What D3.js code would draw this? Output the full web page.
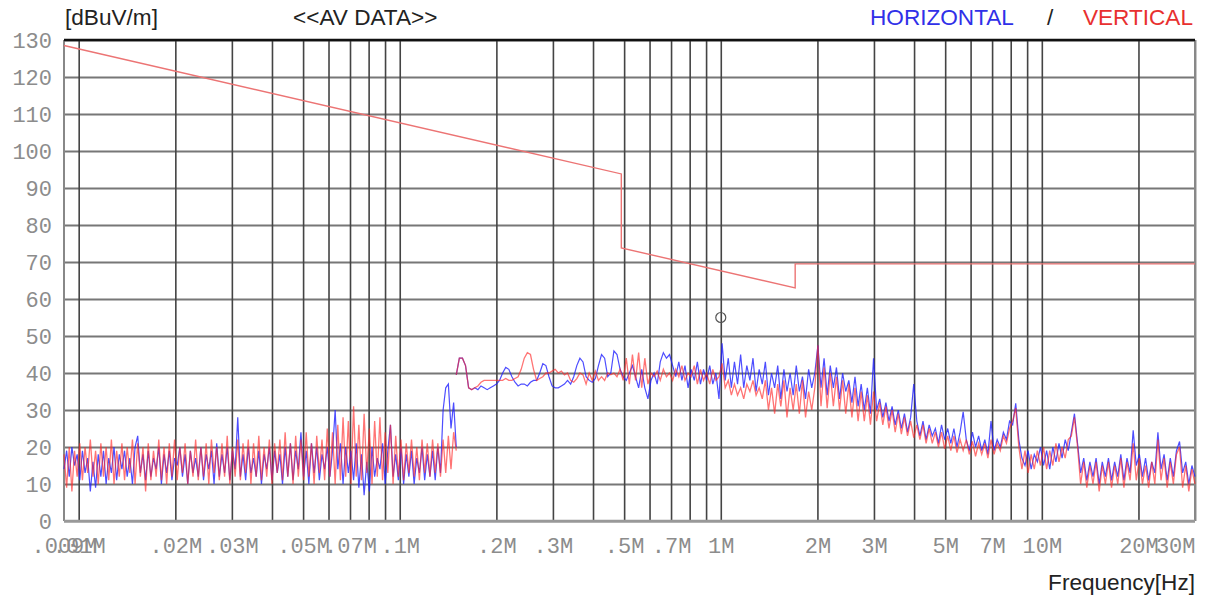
<!DOCTYPE html>
<html>
<head>
<meta charset="utf-8">
<script src="https://cdn.jsdelivr.net/npm/d3@7"></script>
<style>
  body { margin: 0; background: #fff; }
  svg { display: block; }
  .lbl { font-family: "Liberation Mono", "DejaVu Sans Mono", monospace; font-size: 22px; fill: #8c8c8c; }
  .head { font-family: "Liberation Sans", Arial, sans-serif; font-size: 22.6px; }
</style>
</head>
<body>
<div id="chart"></div>
<script>
// sweep bands [start, stop] in MHz
const lowBand = [0.009, 0.15];
const highBand = [0.15, 30];

// 9k - 150k band readings (dBuV/m)
const horizLow = [14,19,12,20,15,18,11,19,13,17, 8,16,9,18,12,19,10,17,13,20,
  11,18,14,19,12,17,10,20,23,13, 18,11,19,12,17,14,20,10,18,13,
  19,11,17,15,20,12,18,10,19,13, 17,12,20,11,18,14,19,10,21,12,
  18,13,20,11,19,14,28,12,18,11, 20,13,17,12,19,10,18,14,20,11,
  19,13,18,10,20,12,21,11,19,14, 24,12,19,10,21,13,20,11,18,14,
  20,12,19,30,14,21,10,20,13,19, 11,21,9,18,7,16,8,20,12,17,
  14,21,10,19,26,12,18,11,20,10, 18,12,19,10,17,13,20,11,18,12,
  19,11,20,13,30,36,37,25,32,20];
const vertLow = [18,9,20,8,19,12,21,11,20,13, 22,12,19,10,21,12,20,11,22,10,
  19,12,21,11,20,13,22,10,21,12, 20,8,21,11,19,12,22,11,20,10,
  21,12,22,11,20,13,21,10,19,12, 22,11,20,12,21,10,22,13,20,11,
  21,12,23,10,20,12,22,11,21,13, 22,10,21,12,23,11,20,12,22,10,
  21,13,22,11,24,12,21,10,23,12, 22,11,24,12,21,10,23,13,22,11,
  25,12,24,10,26,11,28,12,27,10, 31,12,26,11,29,13,25,10,27,12,
  28,11,24,13,26,10,23,12,22,11, 21,13,22,12,20,11,22,13,21,12,
  22,13,21,12,22,13,23,14,24,19];

// 150k - 30M band readings (dBuV/m)
const horizHigh = [39.5,44,44,42,36,35.5,36,35.5,36.5,36, 35.5,36,36.5,37,38,40,41.5,41,39,37.5,
  36.5,37,37,36.5,37.5,38,38,40,42.5,42, 39,36.5,36,36,36.5,37,38,37,39,42,
  44,43,39,38,37.5,38.5,42,45,44,39, 40,46,45,41,39,38,40,42,39,36,
  41,36,33,38,40,37,43,45.5,44,45, 42,39,43,38,42,36,41,38,43,37,
  41,38,42,37,40,33,48,38,44,36, 43,37,45,36,42,38,44,35,41,37,
  43,34,40,36,42,33,41,35,40,34, 42,35,39,33,41,36,40,47.5,36,44,
  34,42,36,41.5,33,40,35,38,32,39, 31,37,30,36,29,44,30,33,28,32,
  27,31,26,30,25,29,24,28,37,27, 23,27,22,26,23,25,21,26,22,25,
  21,25,20,24,29.5,22,19,24,20,23, 19,22,18,27,19,22,20,24,22,27,
  26,31.8,22,17,15,19,14,18,16,20, 15,19,14,20,16,21,17,22,19,24,
  29,21,13,17,11,16,12,17,10,16, 12,17,11,16,12,18,11,17,13,24.5,
  15,18,12,17,11,16,13,24,14,18, 11,17,12,19,21.5,13,16,10,15,12];
const vertHigh = [39.5,44,44,42,36,35.5,36,36.5,37.5,38, 38,38,38,38,38,38,38.5,38,38,38.5,
  39,41,44,45.5,45,41,38,38.5,39,40, 40,40.5,41,40,40.5,39.5,40,38,37.5,38.5,
  40,39.5,37,40,38,40.5,38,39,38,40, 39.5,40,39,41,38,44,37,45,38,45.5,
  36,44,37,40,39,40.5,38,41,39,40, 38,41,39,42,38,40,39,42,37,41,
  38,40,37,41,38,39,42.6,36,38,34, 37,34,36,33,37,35,38,34,36,33,
  38,30,36,29,37,31,38,28,36,30, 37,29,38,28,35,30,36,47.5,31,41.5,
  30.5,40,31,39,30,38,29,37,28,36, 27,35,27,34,26,35,27,32,26,31,
  25,30,24,29,23.5,28,23,27,22.5,26, 22,26,21,25,21,24,20,24,19.5,23,
  19,23,18.5,22,19,22,18,21.5,17.5,21, 18,21,17,22,18,21,19,23,21,25,
  27,30.5,20,14,19,13,18,14,19,15, 20,14,19,15,21,16,20,17,22,23,
  28,20,10,16,9,15,10,16,8,15, 10,16,9,15,10,17,9,16,11,21,
  11,17,10,15,9,16,10,22,11,17, 9,16,10,18,20,9,15,8,14,10];

// limit line break points
const limitFreq = [0.009, 0.49, 0.49, 1.705, 1.705, 30];
const limitLevel = [128.5, 93.8, 73.8, 63.0, 69.5, 69.5];

// marked peak
const markFreq = [1.0];
const markLevel = [55];

const yTicks = [0,10,20,30,40,50,60,70,80,90,100,110,120,130];
const xGrid = [0.01,0.02,0.03,0.04,0.05,0.06,0.07,0.08,0.09,
  0.1,0.2,0.3,0.4,0.5,0.6,0.7,0.8,0.9,
  1,2,3,4,5,6,7,8,9,10,20,30];
const xTickValues = [0.009,0.01,0.02,0.03,0.05,0.07,0.1,0.2,0.3,0.5,0.7,1,2,3,5,7,10,20,30];
const xTickLabels = [".009M",".01M",".02M",".03M",".05M",".07M",".1M",".2M",".3M",".5M",".7M",
  "1M","2M","3M","5M","7M","10M","20M","30M"];

const W = 1205, H = 600;
const pLeft = 64, pRight = 1195, pTop = 40, pBottom = 521;

const svg = d3.select("#chart").append("svg")
  .attr("width", W).attr("height", H);

const x = d3.scaleLog().domain([0.009, 30]).range([pLeft, pRight]);
const y = d3.scaleLinear().domain([0, 130]).range([pBottom, pTop]);

// horizontal grid
const gy = svg.append("g")
  .attr("transform", `translate(${pLeft},0)`)
  .call(d3.axisLeft(y).tickValues(yTicks).tickSize(-(pRight - pLeft)).tickPadding(12).tickFormat(d3.format("d")));
gy.select(".domain").remove();
gy.selectAll("line").attr("stroke", "#777").attr("stroke-width", 2);
gy.selectAll("text").attr("class", "lbl").attr("font-size", null).attr("font-family", null);

// vertical grid
const gx = svg.append("g")
  .attr("transform", `translate(0,${pBottom})`)
  .call(d3.axisBottom(x).tickValues(xGrid).tickSize(-(pBottom - pTop)).tickFormat(""));
gx.select(".domain").remove();
gx.selectAll("line").attr("stroke", "#444").attr("stroke-width", 1.6);

// x labels
const gl = svg.append("g")
  .attr("transform", `translate(0,${pBottom})`)
  .call(d3.axisBottom(x).tickValues(xTickValues).tickSize(0).tickPadding(16)
    .tickFormat((d, i) => xTickLabels[i]));
gl.select(".domain").remove();
gl.selectAll("text").attr("class", "lbl").attr("font-size", null).attr("font-family", null)
  .attr("text-anchor", d => d === 30 ? "end" : "middle");

// frame
svg.append("line").attr("x1", pLeft).attr("x2", pLeft).attr("y1", pTop).attr("y2", pBottom)
  .attr("stroke", "#888").attr("stroke-width", 2);
svg.append("line").attr("x1", pRight).attr("x2", pRight).attr("y1", pTop).attr("y2", pBottom)
  .attr("stroke", "#888").attr("stroke-width", 2);
svg.append("line").attr("x1", pLeft).attr("x2", pRight).attr("y1", pBottom).attr("y2", pBottom)
  .attr("stroke", "#999").attr("stroke-width", 2.5);
svg.append("line").attr("x1", pLeft).attr("x2", pRight).attr("y1", pTop).attr("y2", pTop)
  .attr("stroke", "#111").attr("stroke-width", 2.5);

// traces
function sweep(band, vals) {
  const n = vals.length;
  return vals.map((v, i) => [band[0] * Math.pow(band[1] / band[0], i / (n - 1)), v]);
}
const line = d3.line().x(d => x(d[0])).y(d => y(d[1]));
const plot = svg.append("g");

[[lowBand, horizLow], [highBand, horizHigh]].forEach(([b, v]) => {
  plot.append("path").datum(sweep(b, v)).attr("d", line)
    .attr("fill", "none").attr("stroke", "#2020ff").attr("stroke-width", 1.2).attr("opacity", 0.8);
});
[[lowBand, vertLow], [highBand, vertHigh]].forEach(([b, v]) => {
  plot.append("path").datum(sweep(b, v)).attr("d", line)
    .attr("fill", "none").attr("stroke", "#ff2a2a").attr("stroke-width", 1.3).attr("opacity", 0.65);
});

// limit
plot.append("path").datum(limitFreq.map((f, i) => [f, limitLevel[i]])).attr("d", line)
  .attr("fill", "none").attr("stroke", "#ec7474").attr("stroke-width", 1.4);

// marker
plot.selectAll("circle.mk").data(markFreq).enter().append("circle")
  .attr("cx", d => x(d)).attr("cy", (d, i) => y(markLevel[i])).attr("r", 5)
  .attr("fill", "none").attr("stroke", "#555").attr("stroke-width", 1.2);

// headings
svg.append("text").attr("class", "head").attr("x", 65).attr("y", 25).attr("fill", "#222").text("[dBuV/m]");
svg.append("text").attr("class", "head").attr("x", 293).attr("y", 25).attr("fill", "#222").text("<<AV DATA>>");
svg.append("text").attr("class", "head").attr("x", 870).attr("y", 25).attr("fill", "#3030e8").text("HORIZONTAL");
svg.append("text").attr("class", "head").attr("x", 1047).attr("y", 25).attr("fill", "#222").text("/");
svg.append("text").attr("class", "head").attr("x", 1193).attr("y", 25).attr("text-anchor", "end").attr("fill", "#e83030").text("VERTICAL");
svg.append("text").attr("class", "head").attr("x", 1195).attr("y", 590).attr("text-anchor", "end").attr("fill", "#222").text("Frequency[Hz]");
</script>
</body>
</html>
